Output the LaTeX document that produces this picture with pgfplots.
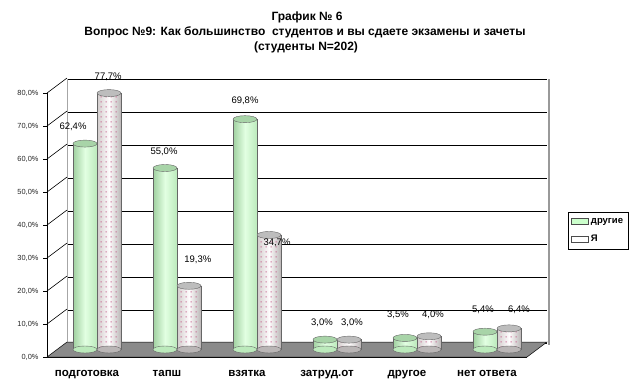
\documentclass[border=0pt]{standalone}
\usepackage{fontspec}
\setmainfont{Liberation Sans}
\usepackage{pgfplots}
\pgfplotsset{compat=1.18}
\usetikzlibrary{patterns}
\definecolor{gL}{HTML}{A0D0A0}
\definecolor{gM}{HTML}{E2FFE2}
\definecolor{gR}{HTML}{BCEABC}
\definecolor{gLeg}{HTML}{CCFFCC}
\definecolor{gTop}{HTML}{A8D4A8}
\definecolor{pL}{HTML}{D2CCCC}
\definecolor{pM}{HTML}{FFFCFD}
\definecolor{pR}{HTML}{BAB6B6}
\definecolor{pTop}{HTML}{BDBDBD}
\definecolor{floorc}{HTML}{8A8A8A}
\definecolor{dotc}{HTML}{C05080}
\pgfdeclarepatternformonly{sparsedots}{\pgfqpoint{0pt}{0pt}}{\pgfqpoint{4.5pt}{4.5pt}}{\pgfqpoint{4.5pt}{4.5pt}}{\pgfpathrectangle{\pgfqpoint{1.8pt}{1.8pt}}{\pgfqpoint{1pt}{1pt}}\pgfusepath{fill}}
\pgfdeclareplotmark{cylell}{\pgfpathellipse{\pgfpointorigin}{\pgfqpoint{12pt}{0pt}}{\pgfqpoint{0pt}{3.5pt}}\pgfusepathqfillstroke}
\pgfplotsset{
  gbar/.style={forget plot, ybar, bar width=24pt, bar shift=0pt, draw=black!60, line width=0.4pt,
    left color=gL, right color=gR, middle color=gM},
  pbar/.style={forget plot, ybar, bar width=24pt, bar shift=0pt, draw=black!60, line width=0.4pt,
    left color=pL, right color=pR, middle color=pM},
}
\begin{document}
\begin{tikzpicture}[x=1pt,y=1pt]
\path[use as bounding box] (0,0) rectangle (631,385);
% titles
\node[font=\bfseries\fontsize{12}{14}\selectfont] at (307,368) {График № 6};
\node[font=\bfseries\fontsize{12}{14}\selectfont] at (305,353) {Вопрос №9: Как большинство\ \ студентов и вы сдаете экзамены и зачеты};
\node[font=\bfseries\fontsize{12}{14}\selectfont] at (306,338) {(студенты N=202)};
% back wall
\begin{axis}[
  at={(67pt,42pt)}, anchor=south west, scale only axis,
  width=480pt, height=264pt,
  xmin=0, xmax=6, ymin=0, ymax=80,
  axis line style={draw=none}, tick style={draw=none},
  xtick=\empty, ytick={0,10,...,80}, yticklabels={},
  ymajorgrids, grid style={black, line width=0.7pt},
  clip=false]
\addplot[gray!70, line width=0.7pt] coordinates {(0,0) (0,80)};
\addplot[gray!80, line width=2pt] coordinates {(6.02,-0.5) (6.02,80)};
\end{axis}
% front frame: floor, side wall diagonals, ticks
\begin{axis}[
  at={(47pt,28pt)}, anchor=south west, scale only axis,
  width=480pt, height=264pt,
  xmin=0, xmax=6, ymin=0, ymax=80,
  axis x line*=bottom, axis y line*=left,
  axis line style={black, line width=0.7pt},
  tick align=outside, major tick length=4pt, minor tick length=6pt,
  ytick={0,10,...,80},
  yticklabels={{0,0\%},{10,0\%},{20,0\%},{30,0\%},{40,0\%},{50,0\%},{60,0\%},{70,0\%},{80,0\%}},
  yticklabel style={font=\fontsize{7.4}{8}\selectfont, xshift=-1pt, text=black!85},
  ytick style={black, line width=0.7pt},
  xtick={0.5,1.5,2.5,3.5,4.5,5.5},
  xticklabels={подготовка,тапш,взятка,затруд.от,другое,нет ответа},
  xticklabel style={font=\bfseries\fontsize{11.5}{13}\selectfont, yshift=-6pt},
  xtick style={draw=none},
  minor xtick={0,1,...,6},
  minor x tick style={black, line width=0.7pt},
  unbounded coords=jump,
  clip=false]
\addplot[fill=floorc, draw=black, line width=0.5pt] coordinates {(0,0) (6,0) (6.25,4.545) (0.25,4.545) (0,0)};
\addplot[black, line width=0.6pt] coordinates {
(0,10) (0.25,14.545) (nan,nan)
(0,20) (0.25,24.545) (nan,nan)
(0,30) (0.25,34.545) (nan,nan)
(0,40) (0.25,44.545) (nan,nan)
(0,50) (0.25,54.545) (nan,nan)
(0,60) (0.25,64.545) (nan,nan)
(0,70) (0.25,74.545) (nan,nan)
(0,80) (0.25,84.545)};
\end{axis}
% bars (middle depth plane)
\begin{axis}[
  at={(57pt,35.5pt)}, anchor=south west, scale only axis,
  width=480pt, height=264pt,
  xmin=0, xmax=6, ymin=0, ymax=80,
  hide axis, clip=false,
  legend style={at={(1.0646,0.5208)}, anchor=north west, draw=black, line width=0.6pt,
    font=\bfseries\fontsize{9.5}{10}\selectfont, inner xsep=3pt, inner ysep=4pt, row sep=6pt,
    legend cell align=left},
  legend image code/.code={\draw[#1, line width=0.4pt] (0pt,-3pt) rectangle (6pt,3pt);}]
% bottom ellipses
\addplot[forget plot, only marks, mark=cylell, mark options={fill=gR, draw=black!60, line width=0.4pt}] coordinates {(0.35,0) (1.35,0) (2.35,0) (3.35,0) (4.35,0) (5.35,0)};
\addplot[forget plot, only marks, mark=cylell, mark options={fill=pR, draw=black!60, line width=0.4pt}] coordinates {(0.65,0) (1.65,0) (2.65,0) (3.65,0) (4.65,0) (5.65,0)};
% bodies: другие
\addplot[gbar] coordinates {(0.35,62.4)};
\addplot[gbar] coordinates {(1.35,55.0)};
\addplot[gbar] coordinates {(2.35,69.8)};
\addplot[gbar] coordinates {(3.35,3.0)};
\addplot[gbar] coordinates {(4.35,3.5)};
\addplot[gbar] coordinates {(5.35,5.4)};
% bodies: Я
\addplot[pbar] coordinates {(0.65,77.7)};
\addplot[pbar] coordinates {(1.65,19.3)};
\addplot[pbar] coordinates {(2.65,34.7)};
\addplot[pbar] coordinates {(3.65,3.0)};
\addplot[pbar] coordinates {(4.65,4.0)};
\addplot[pbar] coordinates {(5.65,6.4)};
\addplot[forget plot, ybar, bar width=22pt, bar shift=0pt, draw=none,
  pattern=sparsedots, pattern color=dotc]
  coordinates {(0.65,77.7) (1.65,19.3) (2.65,34.7) (3.65,3.0) (4.65,4.0) (5.65,6.4)};
% tops
\addplot[forget plot, only marks, mark=cylell, mark options={fill=gTop, draw=black!60, line width=0.4pt}] coordinates {(0.35,62.4) (1.35,55.0) (2.35,69.8) (3.35,3.0) (4.35,3.5) (5.35,5.4)};
\addplot[forget plot, only marks, mark=cylell, mark options={fill=pTop, draw=black!60, line width=0.4pt}] coordinates {(0.65,77.7) (1.65,19.3) (2.65,34.7) (3.65,3.0) (4.65,4.0) (5.65,6.4)};
% value labels
\addplot[forget plot, only marks, mark=none, nodes near coords, point meta=explicit symbolic,
  nodes near coords style={anchor=center, font=\fontsize{9.5}{10}\selectfont, text=black}]
  coordinates {
  (0.2,67.4) [62,4\%]
  (0.64,82.6) [77,7\%]
  (1.3375,59.8) [55,0\%]
  (1.76,27.1) [19,3\%]
  (2.35,75.3) [69,8\%]
  (2.75,32.3) [34,7\%]
  (3.3125,8.0) [3,0\%]
  (3.6875,8.0) [3,0\%]
  (4.2625,10.45) [3,5\%]
  (4.7,10.45) [4,0\%]
  (5.325,12.0) [5,4\%]
  (5.775,12.0) [6,4\%]
  };
\addlegendimage{area legend, fill=gLeg, draw=black!70}
\addlegendentry{другие}
\addlegendimage{area legend, fill=white, draw=black!70}
\addlegendentry{Я}
\end{axis}
\end{tikzpicture}
\end{document}
